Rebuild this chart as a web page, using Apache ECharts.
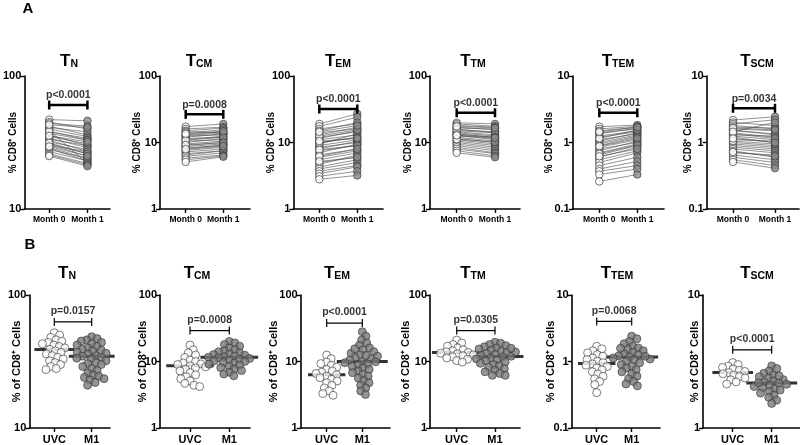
<!DOCTYPE html>
<html><head><meta charset="utf-8">
<script src="https://cdn.jsdelivr.net/npm/echarts@6/dist/echarts.min.js"></script>
<style>html,body{margin:0;padding:0;background:#fff}#c{width:800px;height:445px}</style>
</head><body><div id="c"></div>
<script>
// ---------------- DATA ----------------
const subsetSubs = ['N', 'CM', 'EM', 'TM', 'TEM', 'SCM'];
const rowACats = ['Month 0', 'Month 1'];
const rowBCats = ['UVC', 'M1'];
const rowAYMin = [10, 1, 1, 1, 0.1, 0.1];
const rowAYMax = [100, 100, 100, 100, 10, 10];
const rowBYMin = [10, 1, 1, 1, 0.1, 1];
const rowBYMax = [100, 100, 100, 100, 10, 10];
const pTextA = ['p<0.0001', 'p=0.0008', 'p<0.0001', 'p<0.0001', 'p<0.0001', 'p=0.0034'];
const pTextB = ['p=0.0157', 'p=0.0008', 'p<0.0001', 'p=0.0305', 'p=0.0068', 'p<0.0001'];
const bracketA = [60.5, 26.5, 31.9, 28, 2.8, 3.27];
const bracketB = [62.7, 29.2, 37.8, 29.2, 4.0, 3.87];

// Row A: paired values (Month 0 -> Month 1)
const aN_m0 = [47, 45, 44, 42, 41, 40, 39, 38, 37, 36, 35, 34, 33.5, 33, 32, 31, 30.5, 30, 29, 28.5, 28, 27, 26, 25.5, 25, 38.5, 43, 35.5, 31.5, 29.5];
const aN_m1 = [46, 40, 42, 36, 38, 35, 22, 34, 33, 30, 31, 29, 30, 27, 28, 26, 25, 27, 24, 23, 24, 23, 22, 21.5, 21, 33, 41, 32, 26, 25];
const aCM_m0 = [17.3, 16, 15, 14.5, 14, 13, 12.5, 12, 11.5, 11, 10.5, 10, 9.5, 9, 8.7, 8.3, 8, 7.6, 7.2, 6.8, 6.5, 6.2, 5.8, 5.5, 5.1, 12.8, 10.8, 9.2, 7.9, 13.5];
const aCM_m1 = [19, 17, 16.5, 14, 15.5, 14.5, 13, 13.5, 12, 12.5, 11, 11.5, 10.5, 10, 9.5, 9, 9.2, 8.5, 8, 7.5, 7.5, 7, 6.5, 6.3, 6.1, 13.8, 12, 10, 8.8, 14.8];
const aEM_m0 = [19, 17.5, 16, 15, 14, 13, 12, 11.5, 11, 10, 9.5, 9, 8.5, 8, 7.5, 7, 6.5, 6, 5.5, 5, 4.7, 4.3, 4, 3.7, 3.4, 3.1, 2.8, 12.5, 9.8, 7.8, 6.2, 5.2, 14.5, 10.5];
const aEM_m1 = [27, 24, 19, 20, 16, 17, 14.5, 15, 13, 12, 13.5, 11, 10, 10.5, 9, 9.5, 8, 7.5, 7, 6, 6.5, 5.5, 5, 4.5, 4.3, 3.7, 3.2, 15.5, 12, 9, 8, 6, 18, 11.5];
const aTM_m0 = [19.8, 19, 18, 17, 16.5, 16, 15, 14.5, 14, 13.5, 13, 12.5, 12, 11.5, 11, 10.5, 10, 9.5, 9, 8.5, 8, 7.5, 7, 15.5, 13.2, 11.2, 17.5, 12.8];
const aTM_m1 = [19, 17.5, 17, 15.5, 16, 14, 14, 13, 12.5, 12, 11, 11.5, 10.5, 10, 9.5, 9, 8.5, 8, 7.5, 7, 6.8, 6.3, 6, 14.5, 12, 10.2, 16.5, 11.8];
const aTEM_m0 = [1.73, 1.6, 1.5, 1.4, 1.35, 1.25, 1.2, 1.1, 1.05, 1.0, 0.95, 0.9, 0.85, 0.8, 0.75, 0.7, 0.65, 0.6, 0.55, 0.5, 0.45, 0.4, 0.37, 0.33, 0.26, 1.15, 0.88, 0.68, 1.45, 0.62];
const aTEM_m1 = [1.83, 1.75, 1.7, 1.6, 1.65, 1.5, 1.45, 1.35, 1.4, 1.3, 1.25, 1.2, 1.1, 1.0, 1.05, 0.95, 0.9, 0.85, 0.75, 0.7, 0.6, 0.52, 0.45, 0.4, 0.33, 1.55, 1.15, 0.92, 1.7, 0.8];
const aSCM_m0 = [2.18, 2.0, 1.9, 1.8, 1.7, 1.6, 1.55, 1.5, 1.4, 1.3, 1.25, 1.2, 1.1, 1.0, 0.95, 0.9, 0.85, 0.8, 0.75, 0.7, 0.65, 0.6, 0.55, 0.51, 1.65, 1.35, 1.05, 0.72, 1.45, 1.15];
const aSCM_m1 = [2.44, 1.8, 2.2, 1.6, 1.65, 1.5, 1.3, 1.35, 1.2, 1.25, 1.1, 1.0, 1.05, 0.9, 0.85, 0.8, 0.75, 0.7, 0.6, 0.65, 0.55, 0.5, 0.45, 0.41, 1.55, 1.15, 0.95, 0.62, 2.0, 1.0];

// Row B: UVC vs M1 groups
const bN_uvc = [52, 50, 48, 46, 45, 44, 43, 42, 41, 40, 39, 38, 37, 36, 35, 34, 33, 32, 31, 30, 29, 28, 27.5];
const bN_m1 = [48.5, 47, 46, 45, 44, 43, 42, 41, 40, 39, 38.5, 38, 37, 36.5, 36, 35, 34.7, 34, 33.5, 33, 32, 31, 30.5, 30, 29, 28, 27, 26, 25, 24.5, 24, 23.5, 23, 22, 21];
const bCM_uvc = [17.7, 15, 13.5, 12.5, 11.5, 10.5, 10, 9.5, 9.2, 9, 8.6, 8.3, 8, 7.6, 7.2, 6.8, 6.3, 5.9, 5.5, 5.1, 4.7, 4.4, 4.2];
const bCM_m1 = [20, 19, 18, 17, 16, 15, 14.5, 14, 13.5, 13, 12.7, 12.4, 12.1, 11.8, 11.6, 11.4, 11.1, 10.8, 10.5, 10.2, 10, 9.7, 9.4, 9.1, 8.8, 8.5, 8.1, 7.7, 7.3, 6.9, 6.5, 6.1];
const bEM_uvc = [12.5, 11, 9.8, 9.3, 8.8, 8.2, 7.6, 7.2, 6.9, 6.6, 6.3, 6.0, 5.7, 5.4, 5.1, 4.8, 4.4, 4.0, 3.6, 3.3, 3.1];
const bEM_m1 = [28, 24, 21, 19, 17.5, 16, 15, 14, 13.3, 12.6, 12, 11.5, 11, 10.5, 10, 9.6, 9.2, 8.8, 8.4, 8, 7.6, 7.2, 6.8, 6.4, 6, 5.6, 5.2, 4.8, 4.4, 4, 3.6, 3.2, 12.3, 9.9, 15.5];
const bTM_uvc = [21, 19, 18, 17, 16, 15, 14.5, 14, 13.7, 13.3, 13, 12.6, 12.2, 11.8, 11.3, 10.8, 10.3, 9.8];
const bTM_m1 = [19.4, 18.8, 18, 17.3, 16.6, 16, 15.4, 14.8, 14.2, 13.7, 13.2, 12.8, 12.4, 12, 11.7, 11.3, 11, 10.6, 10.2, 9.8, 9.4, 9, 8.6, 8.2, 7.8, 7.4, 7, 6.6, 6.2, 6.2, 13.9, 15.8];
const bTEM_uvc = [1.69, 1.55, 1.45, 1.35, 1.27, 1.2, 1.13, 1.07, 1.01, 0.96, 0.92, 0.88, 0.84, 0.8, 0.75, 0.7, 0.65, 0.6, 0.55, 0.5, 0.45, 0.34];
const bTEM_m1 = [2.4, 2.2, 2.0, 1.85, 1.7, 1.6, 1.52, 1.45, 1.38, 1.32, 1.26, 1.21, 1.17, 1.13, 1.09, 1.05, 1.0, 0.95, 0.9, 0.85, 0.8, 0.75, 0.7, 0.65, 0.6, 0.55, 0.5, 0.46, 0.43, 1.58, 1.2];
const bSCM_uvc = [3.1, 3.0, 2.92, 2.85, 2.78, 2.72, 2.66, 2.61, 2.56, 2.5, 2.44, 2.38, 2.3, 2.22, 2.14];
const bSCM_m1 = [2.93, 2.8, 2.68, 2.58, 2.5, 2.43, 2.37, 2.31, 2.26, 2.21, 2.17, 2.13, 2.09, 2.05, 2.01, 1.97, 1.93, 1.88, 1.83, 1.77, 1.7, 1.62, 1.53, 2.47, 2.19];
const medianB_uvc = [39, 8.6, 6.3, 13.7, 0.93, 2.61];
const medianB_m1 = [34.7, 11.6, 10, 11.9, 1.17, 2.18];

const rowA0 = [aN_m0, aCM_m0, aEM_m0, aTM_m0, aTEM_m0, aSCM_m0];
const rowA1 = [aN_m1, aCM_m1, aEM_m1, aTM_m1, aTEM_m1, aSCM_m1];
const rowB0 = [bN_uvc, bCM_uvc, bEM_uvc, bTM_uvc, bTEM_uvc, bSCM_uvc];
const rowB1 = [bN_m1, bCM_m1, bEM_m1, bTM_m1, bTEM_m1, bSCM_m1];

// ---------------- LAYOUT ----------------
const FONT = "'Liberation Sans', Arial, sans-serif";
const topA = 76, botA = 209, topB = 295, botB = 428.3;
const layA = [
  {L: 22.7, R: 110, p0: 48, p1: 87, tx: 69, nx: 12.7},
  {L: 160, R: 250, p0: 185.7, p1: 223.3, tx: 199, nx: 138},
  {L: 293.3, R: 383, p0: 319.3, p1: 357.3, tx: 338, nx: 272.7},
  {L: 430, R: 520, p0: 456.7, p1: 495, tx: 473, nx: 409.3},
  {L: 572.7, R: 664, p0: 599.3, p1: 637.3, tx: 618, nx: 550.7},
  {L: 706.7, R: 799, p0: 733, p1: 775, tx: 757, nx: 689}
];
const layB = [
  {L: 29.3, R: 110, p0: 54.3, p1: 91.7, tx: 67, nx: 17.7},
  {L: 160, R: 250, p0: 190, p1: 229.3, tx: 197, nx: 144},
  {L: 300.7, R: 390, p0: 326.7, p1: 362.3, tx: 337, nx: 275},
  {L: 430, R: 520, p0: 456.7, p1: 495, tx: 473, nx: 406.7},
  {L: 571.7, R: 660, p0: 596.7, p1: 631.7, tx: 617, nx: 551.7},
  {L: 703, R: 800, p0: 732.7, p1: 771.7, tx: 757, nx: 695.7}
];

const grids = [], xAxes = [], yAxes = [], series = [], graphics = [];
const SYM_A = 7.5, SYM_B = 8;

function addPanel(lay, top, bot, ymin, ymax, cats, labelSize, nameText, nameSize, gi) {
  grids.push({left: lay.L, top: top, width: lay.R - lay.L, height: bot - top});
  const u = lay.p1 - lay.p0;
  xAxes.push({
    type: 'value', gridIndex: gi,
    min: -(lay.p0 - lay.L) / u, max: 1 + (lay.R - lay.p1) / u,
    splitLine: {show: false},
    axisLine: {show: true, onZero: false, lineStyle: {color: '#000', width: 1.6}},
    axisTick: {show: true, customValues: [0, 1], length: 4, lineStyle: {color: '#000', width: 1.4}},
    axisLabel: {customValues: [0, 1], formatter: v => cats[Math.round(v)], color: '#000', fontWeight: 'bold',
      fontSize: labelSize, fontFamily: FONT, margin: 6, hideOverlap: false, showMinLabel: true, showMaxLabel: true}
  });
  yAxes.push({
    type: 'log', logBase: 10, gridIndex: gi, min: ymin, max: ymax,
    splitLine: {show: false}, minorTick: {show: false},
    axisLine: {show: true, onZero: false, lineStyle: {color: '#000', width: 1.6}},
    axisTick: {show: true, length: 4, lineStyle: {color: '#000', width: 1.4}},
    axisLabel: {color: '#000', fontWeight: 'bold', fontSize: 11, fontFamily: FONT, margin: 3},
    name: nameText, nameLocation: 'middle', nameRotate: 90, nameMoveOverlap: false,
    nameGap: Math.max(1, lay.L - lay.nx - nameSize / 2 + 1),
    nameTextStyle: {color: '#000', fontWeight: 'bold', fontSize: nameSize, fontFamily: FONT}
  });
}

function titleText(x, y, sub) {
  graphics.push({
    type: 'text', x: x, y: y, silent: true,
    style: {
      text: '{t|T}{s|' + sub + '}', align: 'center', verticalAlign: 'middle',
      rich: {
        t: {fontSize: 17, fontWeight: 'bold', fontFamily: FONT, fill: '#000', lineHeight: 20, verticalAlign: 'bottom'},
        s: {fontSize: 10.5, fontWeight: 'bold', fontFamily: FONT, fill: '#000', lineHeight: 12, verticalAlign: 'bottom', padding: [0, 0, 0, 0]}
      }
    }
  });
}

function bracket(gi, yb, text, lw, capH, fs, dist) {
  series.push({
    type: 'line', xAxisIndex: gi, yAxisIndex: gi, data: [[0, yb], [1, yb]], silent: true,
    symbol: 'rect', symbolSize: [lw, capH], showSymbol: true, z: 6,
    lineStyle: {color: '#000', width: lw}, itemStyle: {color: '#000'}, animation: false
  });
  series.push({
    type: 'scatter', xAxisIndex: gi, yAxisIndex: gi, data: [[0.5, yb]], symbolSize: 0, silent: true, z: 6,
    label: {show: true, position: 'top', distance: dist, formatter: text, color: '#000', fontWeight: 'bold',
      fontSize: fs, fontFamily: FONT}
  });
}

// Row A panels
for (let i = 0; i < 6; i++) {
  const gi = i;
  addPanel(layA[i], topA, botA, rowAYMin[i], rowAYMax[i], rowACats, 8.5, '% CD8\u207A Cells', 10, gi);
  titleText(layA[i].tx, 60, subsetSubs[i]);
  const m0 = rowA0[i], m1 = rowA1[i];
  series.push({
    type: 'lines', coordinateSystem: 'cartesian2d', xAxisIndex: gi, yAxisIndex: gi, silent: true, z: 2,
    lineStyle: {color: '#4a4a4a', width: 0.6, opacity: 1},
    data: m0.map((v, k) => ({coords: [[0, v], [1, m1[k]]]}))
  });
  series.push({
    type: 'scatter', xAxisIndex: gi, yAxisIndex: gi, symbolSize: SYM_A, z: 3, silent: true,
    itemStyle: {color: '#ffffff', borderColor: '#222', borderWidth: 0.8},
    data: m0.map(v => [0, v])
  });
  series.push({
    type: 'scatter', xAxisIndex: gi, yAxisIndex: gi, symbolSize: SYM_A, z: 3, silent: true,
    itemStyle: {color: '#8a8a8a', borderColor: '#333', borderWidth: 0.8},
    data: m1.map(v => [1, v])
  });
  bracket(gi, bracketA[i], pTextA[i], 2.5, 9, 10.5, 4);
}

// Row B panels
const swarmIdx = [];
for (let i = 0; i < 6; i++) {
  const gi = 6 + i;
  addPanel(layB[i], topB, botB, rowBYMin[i], rowBYMax[i], rowBCats, 11, '% of CD8\u207A Cells', 11, gi);
  titleText(layB[i].tx, 272, subsetSubs[i]);
  const s0 = series.length;
  series.push({
    type: 'scatter', xAxisIndex: gi, yAxisIndex: gi, symbolSize: SYM_B, z: 3, silent: true,
    itemStyle: {color: '#ffffff', borderColor: '#333', borderWidth: 0.8},
    data: rowB0[i].map(v => [0, v])
  });
  series.push({
    type: 'scatter', xAxisIndex: gi, yAxisIndex: gi, symbolSize: SYM_B, z: 3, silent: true,
    itemStyle: {color: '#7b7b7b', borderColor: '#333', borderWidth: 0.8},
    data: rowB1[i].map(v => [1, v])
  });
  series.push({
    type: 'scatter', xAxisIndex: gi, yAxisIndex: gi, symbol: 'rect', symbolSize: [32, 3], z: 2, silent: true,
    itemStyle: {color: '#000'},
    data: [[0, medianB_uvc[i]], [1, medianB_m1[i]]]
  });
  swarmIdx.push(s0);
  bracket(gi, bracketB[i], pTextB[i], 1.2, 8, 10.5, 5);
}

graphics.push({type: 'text', x: 28, y: 9, style: {text: 'A', fontSize: 15, fontWeight: 'bold', fontFamily: FONT, fill: '#000', align: 'center', verticalAlign: 'middle'}});
graphics.push({type: 'text', x: 30, y: 245, style: {text: 'B', fontSize: 15, fontWeight: 'bold', fontFamily: FONT, fill: '#000', align: 'center', verticalAlign: 'middle'}});

const chart = echarts.init(document.getElementById('c'), null, {renderer: 'canvas'});
const option = {animation: false, backgroundColor: '#fff', grid: grids, xAxis: xAxes, yAxis: yAxes, series: series, graphic: graphics};
chart.setOption(option);

// Beeswarm layout in pixel space for row B
function swarm(values, gi, cat, diam) {
  const f = {gridIndex: gi};
  const p0 = chart.convertToPixel(f, [0, values[0]]);
  const p1 = chart.convertToPixel(f, [1, values[0]]);
  const unit = p1[0] - p0[0];
  const pys = values.map(v => chart.convertToPixel(f, [cat, v])[1]);
  const order = values.map((v, k) => k).sort((a, b) => pys[a] - pys[b]);
  const placed = [];
  const out = new Array(values.length);
  let ext = 0;
  for (const k of order) {
    const py = pys[k];
    const cands = [0];
    for (const q of placed) {
      const dy = Math.abs(q.py - py);
      if (dy < diam) {
        const dx = Math.sqrt(diam * diam - dy * dy);
        cands.push(q.px + dx, q.px - dx);
      }
    }
    cands.sort((a, b) => Math.abs(a) - Math.abs(b));
    let best = 0;
    for (const c of cands) {
      if (placed.every(q => (q.px - c) * (q.px - c) + (q.py - py) * (q.py - py) >= diam * diam - 0.01)) { best = c; break; }
    }
    placed.push({px: best, py: py});
    ext = Math.max(ext, Math.abs(best));
    out[k] = [cat + best / unit, values[k]];
  }
  return {data: out, ext: ext};
}

const newSeries = series.map(() => ({}));
for (let i = 0; i < 6; i++) {
  const gi = 6 + i;
  const a = swarm(rowB0[i], gi, 0, SYM_B * 0.72);
  const b = swarm(rowB1[i], gi, 1, SYM_B * 0.72);
  const s0 = swarmIdx[i];
  newSeries[s0] = {data: a.data};
  newSeries[s0 + 1] = {data: b.data};
  newSeries[s0 + 2] = {data: [
    {value: [0, medianB_uvc[i]], symbolSize: [2 * a.ext + SYM_B + 8, 3]},
    {value: [1, medianB_m1[i]], symbolSize: [2 * b.ext + SYM_B + 8, 3]}
  ]};
}
chart.setOption({series: newSeries});
</script>
</body></html>
